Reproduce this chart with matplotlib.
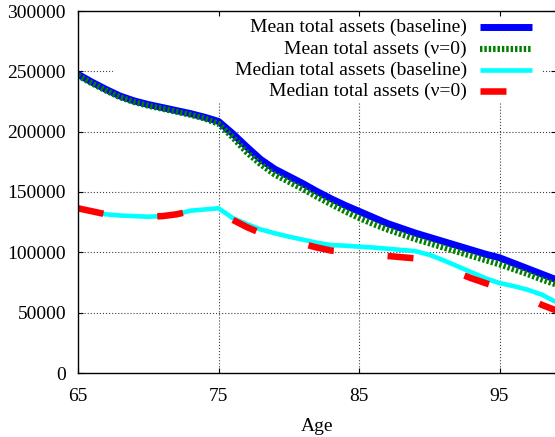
import matplotlib
matplotlib.use("Agg")
import matplotlib.pyplot as plt
from matplotlib.patches import Rectangle
from matplotlib.lines import Line2D

plt.rcParams["font.family"] = ["Liberation Serif", "DejaVu Serif"]
plt.rcParams["lines.scale_dashes"] = False

ages = list(range(65, 100))

mean_baseline = [247500, 241000, 235000, 229500, 225500, 222500, 220000, 217500, 215000, 212000,
                 208500, 198500, 187500, 177000, 169000, 163000, 157000, 150500, 144500, 139000,
                 134000, 129000, 124000, 120000, 116000, 112500, 109000, 105500, 102000, 98500,
                 95500, 91000, 86500, 82000, 77500]
mean_nu0 = [246500, 240000, 234000, 228500, 224500, 221500, 219000, 216500, 214000, 211000,
            206500, 195500, 183000, 173000, 164500, 158500, 152500, 146000, 140000, 134000,
            128500, 123500, 119000, 115000, 111000, 107500, 104000, 100500, 97000, 93500,
            90000, 86000, 82000, 77500, 73500]
median_baseline = [136500, 134000, 131500, 130500, 130000, 129500, 130000, 131500, 134500, 135500,
                   136500, 128500, 123500, 119000, 115800, 113000, 110500, 108000, 106000, 105500,
                   104700, 104000, 103000, 102000, 101000, 98000, 93500, 88500, 83500, 78500,
                   74500, 72000, 69000, 65000, 59000]
median_nu0 = [136500, 134000, 131500, 130500, 130000, 129500, 130000, 131500, 134000, 135000,
              136000, 127000, 121000, 116000, 112500, 110000, 107000, 104000, 101500, 100500,
              99500, 98500, 97000, 96000, 95000, 92000, 88000, 83000, 78500, 74500,
              70500, 67000, 62000, 56500, 52000]

series_labels = ["Mean total assets (baseline)", "Mean total assets (\u03bd=0)",
                 "Median total assets (baseline)", "Median total assets (\u03bd=0)"]

x_ticks = [65, 75, 85, 95]
y_ticks = [0, 50000, 100000, 150000, 200000, 250000, 300000]

W, H = 555, 437
fig = plt.figure(figsize=(W / 100, H / 100), dpi=100)
ax_left, ax_right, ax_top, ax_bottom = 78, 555.7, 11, 373
ax = fig.add_axes([ax_left / W, (H - ax_bottom) / H,
                   (ax_right - ax_left) / W, (ax_bottom - ax_top) / H])

ax.set_xlim(65, 99)
ax.set_ylim(0, 300000)

# dotted grid drawn by hand so the key's opaque area can hide it
grid_kw = dict(color="0.25", lw=0.8, linestyle=(0, (0.8, 1.4)), zorder=0.6)
for xv in x_ticks[1:]:
    ax.axvline(xv, **grid_kw)
for yv in y_ticks[1:-1]:
    ax.axhline(yv, **grid_kw)

# opaque key background
ax.add_patch(Rectangle((0.073, 0.746), 0.898, 0.26, transform=ax.transAxes,
                       facecolor="white", edgecolor="none", zorder=0.8, clip_on=False))

styles = [
    dict(color="#0000ff", lw=5.0, solid_capstyle="butt"),
    dict(color="#007f00", lw=4.4, linestyle=(0, (1.75, 1.4)), dash_capstyle="butt"),
    dict(color="#00ffff", lw=3.3, solid_capstyle="butt"),
    dict(color="#ff0000", lw=4.7, linestyle=(0, (18.7, 38.9)), dash_capstyle="butt"),
]
data = [mean_baseline, mean_nu0, median_baseline, median_nu0]
for vals, st in zip(data, styles):
    ax.plot(ages, vals, zorder=2, **st)

# key: right-aligned text followed by a line sample
rows_px = [27, 49, 70, 91]
tx = (467 - ax_left) / (ax_right - ax_left)
sx0 = (480 - ax_left) / (ax_right - ax_left)
sx1 = (532 - ax_left) / (ax_right - ax_left)
for lab, st, rp in zip(series_labels, styles, rows_px):
    yy = (ax_bottom - rp) / (ax_bottom - ax_top)
    ax.text(tx, yy, lab, transform=ax.transAxes, ha="right", va="center",
            fontsize=14, zorder=3)
    ax.add_line(Line2D([sx0, sx1], [yy, yy], transform=ax.transAxes, zorder=3, **st))

ax.set_xticks(x_ticks)
ax.set_yticks(y_ticks)
ax.set_xticklabels([str(v) for v in x_ticks])
ax.set_yticklabels([str(v) for v in y_ticks])
ax.tick_params(axis="both", direction="in", length=3.6, width=0.8, labelsize=14,
               top=True, right=True)
ax.tick_params(axis="y", pad=8.6)
ax.tick_params(axis="x", pad=11)
for sp in ax.spines.values():
    sp.set_linewidth(1.0)
    sp.set_zorder(4)

ax.set_xlabel("Age", fontsize=14, labelpad=9)

fig.savefig("out.png", dpi=100)
